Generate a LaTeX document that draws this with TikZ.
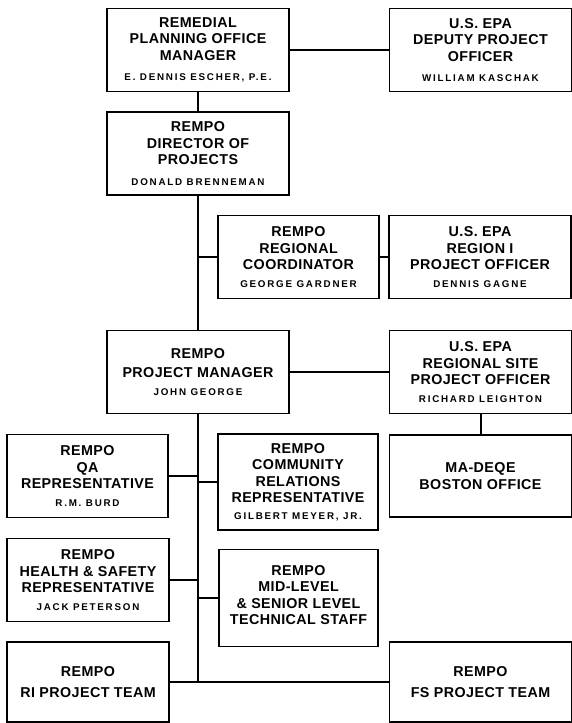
\documentclass[tikz,border=0pt]{standalone}
\usepackage{fontspec}
\setmainfont{Liberation Sans}
\newfontfamily\titlefont{Liberation Sans}[LetterSpace=3]
\newfontfamily\whofont{Liberation Sans}[LetterSpace=18]
\newcommand{\who}[1]{{\whofont\bfseries\fontsize{9.8}{12}\selectfont #1}}

\begin{document}
\begin{tikzpicture}[x=1pt, y=-1pt,
  office/.style={draw, line width=1.8pt, align=center, inner sep=0pt,
    minimum width=182pt, minimum height=83pt,
    font=\titlefont\bfseries\fontsize{14.3}{16.5}\selectfont},
  link/.style={line width=2pt}]

\useasboundingbox (0,0) rectangle (572,723) ;

\node [office] (rpom) at (198,50) {REMEDIAL\\PLANNING OFFICE\\MANAGER\\[4pt]\who{E. DENNIS ESCHER, P.E.}} ;
\node [office] (depo) at (480.5,50) {U.S. EPA\\DEPUTY PROJECT\\OFFICER\\[4pt]\who{WILLIAM KASCHAK}} ;
\node [office] (dir) at (198,153.5) {REMPO\\DIRECTOR OF\\PROJECTS\\[4pt]\who{DONALD BRENNEMAN}} ;
\node [office, minimum width=161pt] (regc) at (298.5,257) {REMPO\\REGIONAL\\COORDINATOR\\[1pt]\who{GEORGE GARDNER}} ;
\node [office] (regpo) at (480,257) {U.S. EPA\\REGION I\\PROJECT OFFICER\\[1pt]\who{DENNIS GAGNE}} ;
\node [office] (pm) at (198,372) {REMPO\\[3pt]PROJECT MANAGER\\[1pt]\who{JOHN GEORGE}} ;
\node [office] (site) at (480.5,372) {U.S. EPA\\REGIONAL SITE\\PROJECT OFFICER\\[1pt]\who{RICHARD LEIGHTON}} ;
\node [office, minimum width=161pt] (qa) at (87.5,476) {REMPO\\QA\\REPRESENTATIVE\\[1pt]\who{R.M. BURD}} ;
\node [office, minimum width=160pt, minimum height=96pt] (comrel) at (298,482) {REMPO\\COMMUNITY\\RELATIONS\\REPRESENTATIVE\\\who{GILBERT MEYER, JR.}} ;
\node [office, minimum height=82pt] (deqe) at (480.5,476) {MA-DEQE\\BOSTON OFFICE} ;
\node [office, minimum width=162pt] (safety) at (88,580) {REMPO\\HEALTH \& SAFETY\\REPRESENTATIVE\\[1pt]\who{JACK PETERSON}} ;
\node [office, minimum width=159pt, minimum height=97pt] (staff) at (298.5,598) {REMPO\\MID-LEVEL\\\& SENIOR LEVEL\\TECHNICAL STAFF\\[-10pt]\mbox{}} ;
\node [office, minimum width=162pt, minimum height=80pt] (riteam) at (88,682) {REMPO\\[4pt]RI PROJECT TEAM} ;
\node [office, minimum height=80pt] (fsteam) at (480.5,682) {REMPO\\[4pt]FS PROJECT TEAM} ;

\draw [link] (rpom) to (depo) ;
\draw [link] (rpom) to (dir) ;
\draw [link] (dir) to (pm) ;
\draw [link] (regc.west) to (regc.west -| dir.south) ;
\draw [link] (regc) to (regpo) ;
\draw [link] (pm) to (site) ;
\draw [link] (site) to (deqe) ;

\coordinate (tbot) at (pm.south |- riteam.east) ;
\draw [link] (pm.south) to (tbot) ;
\draw [link] (qa.east) to (qa.east -| pm.south) ;
\draw [link] (comrel.west) to (comrel.west -| pm.south) ;
\draw [link] (safety.east) to (safety.east -| pm.south) ;
\draw [link] (staff.west) to (staff.west -| pm.south) ;
\draw [link] (riteam) to (fsteam) ;

\end{tikzpicture}
\end{document}
